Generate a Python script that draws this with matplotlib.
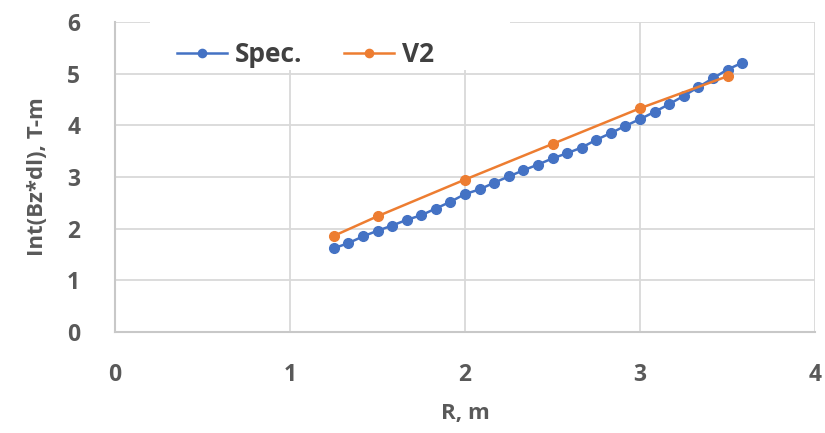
import matplotlib
matplotlib.use('Agg')
import matplotlib.pyplot as plt
from matplotlib.patches import Rectangle

# Spec. curve, sampled every 1/12 m from 1.25 m
spec_r = [1.25 + k / 12 for k in range(29)]
spec_int = [1.62, 1.72, 1.85, 1.96, 2.06, 2.17, 2.26, 2.39, 2.52, 2.67,
            2.76, 2.89, 3.01, 3.13, 3.24, 3.36, 3.46, 3.57, 3.72, 3.85,
            3.99, 4.12, 4.26, 4.41, 4.57, 4.74, 4.91, 5.08, 5.21]

# V2 design points
v2_r = [1.25, 1.5, 2.0, 2.5, 3.0, 3.5]
v2_int = [1.86, 2.24, 2.95, 3.64, 4.33, 4.95]

x_ticks = [0, 1, 2, 3, 4]
y_ticks = [0, 1, 2, 3, 4, 5, 6]

plt.rcParams['font.family'] = ['Open Sans', 'DejaVu Sans']
plt.rcParams['font.weight'] = 'bold'

text_col = '#595959'
grid_col = '#d9d9d9'

fig = plt.figure(figsize=(8.25, 4.33), dpi=100)
ax = fig.add_axes([115 / 825, 101 / 433, 700 / 825, 310 / 433])

ax.plot(spec_r, spec_int, color='#4472c4', lw=1.8, marker='o', ms=7,
        label='Spec.', zorder=3)
ax.plot(v2_r, v2_int, color='#ed7d31', lw=1.8, marker='o', ms=7,
        label='V2', zorder=4)

ax.set_xlim(0, 4)
ax.set_ylim(0, 6)
ax.set_xticks(x_ticks)
ax.set_yticks(y_ticks)
ax.grid(True, color=grid_col, lw=1.3)
ax.set_axisbelow(True)
for side in ['top', 'right']:
    ax.spines[side].set_visible(False)
for side in ['left', 'bottom']:
    ax.spines[side].set_color('#c8c8c8')
    ax.spines[side].set_linewidth(1.5)

ax.tick_params(axis='both', length=0, labelsize=16.5, labelcolor=text_col)
ax.tick_params(axis='x', pad=22)
ax.tick_params(axis='y', pad=25)

ax.set_xlabel('R, m', fontsize=16, fontweight='bold', color=text_col,
              labelpad=12)
ax.set_ylabel('Int(Bz*dl), T-m', fontsize=16, fontweight='bold',
              color=text_col, labelpad=14)

# white legend area covering the top gridline
ax.add_patch(Rectangle((0.05, 0.845), 0.514, 0.18, transform=ax.transAxes,
                       facecolor='white', edgecolor='none', clip_on=False,
                       zorder=2))
leg = ax.legend(loc='center left', bbox_to_anchor=(0.054, 0.894), ncol=2,
                frameon=False, fontsize=19, handlelength=1.9,
                columnspacing=1.6, handletextpad=0.3, markerscale=0.85)
for t in leg.get_texts():
    t.set_color('#404040')
leg.set_zorder(5)

fig.savefig('out.png', dpi=100)
